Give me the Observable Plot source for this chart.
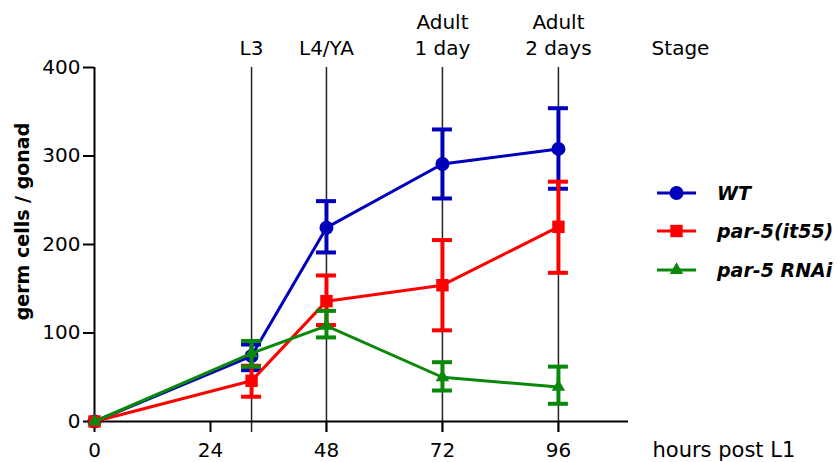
<!DOCTYPE html>
<html>
<head>
<meta charset="utf-8">
<script src="https://cdn.jsdelivr.net/npm/d3@7"></script>
<script src="https://cdn.jsdelivr.net/npm/@observablehq/plot@0.6"></script>
<style>
  body { margin: 0; background: #fff; }
  #wrap { position: relative; width: 838px; height: 462px; }
  #legend { position: absolute; left: 655px; top: 173.5px; font-family: "DejaVu Sans", sans-serif; font-weight: bold; font-style: italic; font-size: 19px; color: #000; }
  #legend .row { display: flex; align-items: center; height: 38.5px; }
  #legend svg { margin-right: 20px; }
</style>
</head>
<body>
<div id="wrap"><div id="legend"></div></div>
<script>
// ---- data ----
const hours = [0, 32.5, 48, 72, 96];
const xTicks = [0, 24, 48, 72, 96];
const yTicks = [0, 100, 200, 300, 400];

const stageHours = [32.5, 48, 72, 96];
const stageLabels = ["L3", "L4/YA", "Adult\n1 day", "Adult\n2 days"];

const seriesNames = ["WT", "par-5(it55)", "par-5 RNAi"];
const seriesColors = ["#0000bb", "#ff0000", "#0a880a"];
const seriesSymbols = ["circle", "square", "triangle"];

const wtMean   = [0, 74, 219, 291, 308];
const wtLow    = [0, 58, 191, 252, 263];
const wtHigh   = [0, 87, 249, 330, 354];

const it55Mean = [0, 46, 136, 154, 220];
const it55Low  = [0, 28, 109, 103, 168];
const it55High = [0, 63, 165, 205, 271];

const rnaiMean = [0, 77, 108, 50, 39];
const rnaiLow  = [0, 62, 95, 35, 20];
const rnaiHigh = [0, 91, 125, 67, 62];

// ---- build ----
const seriesData = [
  {mean: wtMean, low: wtLow, high: wtHigh},
  {mean: it55Mean, low: it55Low, high: it55High},
  {mean: rnaiMean, low: rnaiLow, high: rnaiHigh}
].map((s, k) => hours.map((h, i) => ({
  series: seriesNames[k], h, mean: s.mean[i], low: s.low[i], high: s.high[i]
})));

const symbolR = {circle: 7, square: 7, triangle: 5};

const seriesMarks = seriesData.flatMap((rows, k) => {
  const color = seriesColors[k];
  const bars = rows.filter(d => d.high > d.low);
  return [
    Plot.line(rows, {x: "h", y: "mean", stroke: color, strokeWidth: 3}),
    Plot.ruleX(bars, {x: "h", y1: "low", y2: "high", stroke: color, strokeWidth: 4}),
    Plot.ruleY(bars, {y: "low", x1: "h", x2: "h", insetLeft: -10, insetRight: -10, stroke: color, strokeWidth: 4}),
    Plot.ruleY(bars, {y: "high", x1: "h", x2: "h", insetLeft: -10, insetRight: -10, stroke: color, strokeWidth: 4}),
    Plot.dot(rows, {x: "h", y: "mean", fill: color, stroke: null, symbol: seriesSymbols[k], r: symbolR[seriesSymbols[k]]})
  ];
});

const chart = Plot.plot({
  width: 838,
  height: 462,
  marginLeft: 94,
  marginRight: 210,
  marginTop: 67,
  marginBottom: 41,
  style: {fontFamily: "DejaVu Sans, sans-serif", fontSize: "20px", color: "#000", background: "transparent"},
  x: {domain: [0, 110.5]},
  y: {domain: [0, 400]},
  marks: [
    // stage lines
    Plot.ruleX(stageHours, {x: d => d, insetBottom: -11, stroke: "#222", strokeWidth: 1.5}),
    Plot.text(stageHours, {x: d => d, text: (d, i) => stageLabels[i], frameAnchor: "top", dy: -13, lineAnchor: "bottom", lineHeight: 1.3, fontSize: 20}),
    Plot.text(["Stage"], {frameAnchor: "top-right", dx: 52, dy: -13, lineAnchor: "bottom", textAnchor: "middle", fontSize: 20}),
    // axes
    Plot.ruleX([0], {strokeWidth: 2}),
    Plot.ruleY([0], {strokeWidth: 2}),
    Plot.axisY({ticks: yTicks, tickSize: 11, tickPadding: 3, label: null, strokeWidth: 2, fontSize: 20}),
    Plot.axisX({ticks: xTicks, tickSize: 11, tickPadding: 10, label: null, strokeWidth: 2, fontSize: 20}),
    Plot.text(["hours post L1"], {frameAnchor: "bottom-right", dx: 24, dy: 35, lineAnchor: "bottom", textAnchor: "start", fontSize: 21}),
    Plot.text(["germ cells / gonad"], {frameAnchor: "left", dx: -72, dy: -23, rotate: -90, textAnchor: "middle", fontSize: 19, fontWeight: "bold"}),
    ...seriesMarks
  ]
});

const wrap = document.getElementById("wrap");
wrap.insertBefore(chart, wrap.firstChild);

// legend
const legend = document.getElementById("legend");
const symPath = {
  circle: d3.symbol(d3.symbolCircle, Math.PI * 49)(),
  square: d3.symbol(d3.symbolSquare, Math.PI * 49)(),
  triangle: d3.symbol(d3.symbolTriangle, Math.PI * 25)()
};
seriesNames.forEach((name, k) => {
  const row = document.createElement("div");
  row.className = "row";
  row.innerHTML = `<svg width="42" height="20"><line x1="2" x2="41" y1="10" y2="10" stroke="${seriesColors[k]}" stroke-width="3"/><path transform="translate(21.5,10)" d="${symPath[seriesSymbols[k]]}" fill="${seriesColors[k]}"/></svg><span>${name}</span>`;
  legend.appendChild(row);
});
</script>
</body>
</html>
